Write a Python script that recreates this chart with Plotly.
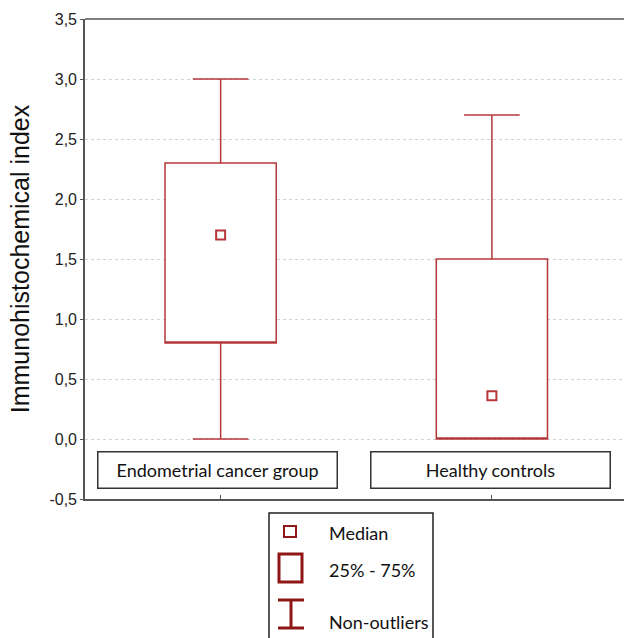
import plotly.graph_objects as go

# ---- data ----
groups = ["Endometrial cancer group", "Healthy controls"]
positions = [0, 1]
mins = [0.0, 0.0]
q1s = [0.8, 0.0]
medians = [1.7, 0.36]
q3s = [2.3, 1.5]
maxs = [3.0, 2.7]
ytick_vals = [-0.5, 0.0, 0.5, 1.0, 1.5, 2.0, 2.5, 3.0, 3.5]
ytick_text = ["-0,5", "0,0", "0,5", "1,0", "1,5", "2,0", "2,5", "3,0", "3,5"]
legend_labels = ["Median", "25% - 75%", "Non-outliers"]

RED = "#b5373a"
LEG = "#8e1616"
W, H = 624, 638
ML, MR, MT, MB = 85, 0, 19, 139
PW, PH = W - ML - MR, H - MT - MB


def px(xp):
    return (xp - ML) / PW


def py(yp):
    return (H - MB - yp) / PH


fig = go.Figure()

# box (median line merged into lower box edge; median drawn as marker)
fig.add_trace(go.Box(
    x=positions, q1=q1s, median=q1s, q3=q3s,
    lowerfence=mins, upperfence=maxs,
    width=0.41, whiskerwidth=0.5,
    fillcolor="white", line=dict(color=RED, width=1.5),
    boxpoints=False, hoverinfo="skip", showlegend=False,
))
fig.add_trace(go.Scatter(
    x=positions, y=medians, mode="markers",
    marker=dict(symbol="square-open", size=9, color=RED, line=dict(width=2, color=RED)),
    showlegend=False, hoverinfo="skip",
))

shapes = []
# top frame line
shapes.append(dict(type="line", xref="paper", yref="paper", x0=0, x1=1, y0=1, y1=1,
                   line=dict(color="#555555", width=1.6)))

annotations = []
# category label boxes
for pos, g, sh in zip(positions, groups, [-3, -1]):
    annotations.append(dict(
        x=pos, y=-0.262, xref="x", yref="y", text=g, showarrow=False,
        width=236, height=33, xshift=sh,
        bordercolor="#333333", borderwidth=1.5, bgcolor="white", borderpad=1,
        font=dict(family="Lato", size=18, color="#111111"),
    ))

# legend box
shapes.append(dict(type="rect", xref="paper", yref="paper",
                   x0=px(269), x1=px(433), y0=py(513), y1=py(660),
                   line=dict(color="#222222", width=1.5), fillcolor="white", layer="above"))
# median icon
shapes.append(dict(type="rect", xref="paper", yref="paper",
                   x0=px(284), x1=px(296), y0=py(526), y1=py(537),
                   line=dict(color=LEG, width=2)))
# box icon
shapes.append(dict(type="rect", xref="paper", yref="paper",
                   x0=px(279), x1=px(302), y0=py(554), y1=py(582),
                   line=dict(color=LEG, width=3)))
# whisker icon
for x0, x1, y0, y1 in [(278, 304, 600, 600), (278, 304, 628, 628), (291, 291, 600, 628)]:
    shapes.append(dict(type="line", xref="paper", yref="paper",
                       x0=px(x0), x1=px(x1), y0=py(y0), y1=py(y1),
                       line=dict(color=LEG, width=3)))
for lab, yc in zip(legend_labels, [533, 570, 622]):
    annotations.append(dict(
        x=px(327), y=py(yc), xref="paper", yref="paper", text=lab, showarrow=False,
        xanchor="left", yanchor="middle",
        font=dict(family="Lato", size=18, color="#111111"),
    ))

fig.update_layout(
    width=W, height=H,
    margin=dict(l=ML, r=MR, t=MT, b=MB, autoexpand=False),
    plot_bgcolor="white", paper_bgcolor="white",
    shapes=shapes, annotations=annotations,
    showlegend=False,
    xaxis=dict(
        range=[-0.5, 1.487], tickvals=positions, ticktext=["", ""],
        showgrid=False, zeroline=False, showline=True, linecolor="#555555", linewidth=1.6,
        ticks="inside", ticklen=4, tickcolor="#555555", automargin=False,
    ),
    yaxis=dict(
        range=[-0.5, 3.5], tickvals=ytick_vals, ticktext=ytick_text,
        showgrid=True, gridcolor="#d2d2d2", griddash="dot", gridwidth=1,
        zeroline=False, showline=True, linecolor="#555555", linewidth=1.6,
        ticks="outside", ticklen=3, tickcolor="#555555", automargin=False,
        tickfont=dict(family="Liberation Sans", size=16, color="#222222"),
        title=dict(text="Immunohistochemical index", standoff=13,
                   font=dict(family="Liberation Sans", size=25, color="#111111")),
    ),
)

fig.write_html("out.html", config={"displayModeBar": False},
               post_script="document.body.style.margin='0';document.body.style.overflow='hidden';")
